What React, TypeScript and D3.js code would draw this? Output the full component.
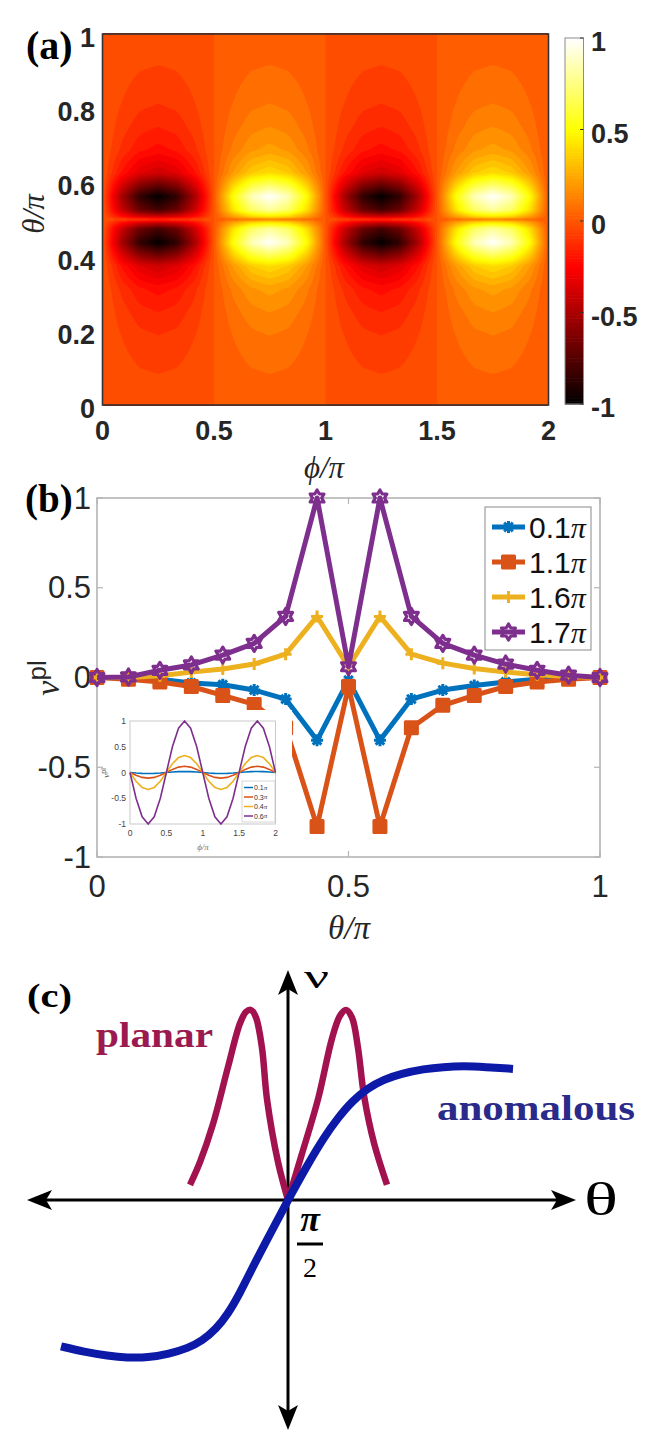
import React, { useMemo } from 'react';
import * as d3 from 'd3';

// ---------- panel (a): colour map of nu^pl over phi/pi and theta/pi ----------
// theta profile of the map, read along the darkest column (phi = 0.25 pi)
const mapTheta = [0, 0.0625, 0.125, 0.1875, 0.25, 0.3125, 0.375, 0.4375, 0.475, 0.495, 0.5, 0.505, 0.525, 0.5625, 0.625, 0.6875, 0.75, 0.8125, 0.875, 0.9375, 1];
const mapThetaProfile = [0.03, 0.04, 0.07, 0.1, 0.15, 0.22, 0.4, 1, 0.8, 0.35, 0.03, 0.35, 0.8, 1, 0.4, 0.22, 0.15, 0.1, 0.07, 0.04, 0.03];
const mapTicksX = [0, 0.5, 1, 1.5, 2];
const mapTicksY = [0, 0.2, 0.4, 0.6, 0.8, 1];
const barTicks = [-1, -0.5, 0, 0.5, 1];

// ---------- panel (b): nu^pl against theta/pi ----------
const thetaB = [0, 0.0625, 0.125, 0.1875, 0.25, 0.3125, 0.375, 0.4375, 0.5, 0.5625, 0.625, 0.6875, 0.75, 0.8125, 0.875, 0.9375, 1];
const seriesNames = ['0.1', '1.1', '1.6', '1.7'];
const nu01 = [0, 0, -0.01, -0.03, -0.04, -0.07, -0.12, -0.35, -0.015, -0.35, -0.12, -0.07, -0.045, -0.025, -0.01, 0, 0];
const nu11 = [0, -0.01, -0.025, -0.05, -0.1, -0.15, -0.28, -0.83, -0.05, -0.83, -0.28, -0.155, -0.1, -0.05, -0.025, -0.01, 0];
const nu16 = [0, 0, 0.01, 0.03, 0.047, 0.075, 0.13, 0.34, 0.06, 0.34, 0.13, 0.08, 0.05, 0.03, 0.015, 0.005, 0];
const nu17 = [0, 0.003, 0.04, 0.07, 0.125, 0.19, 0.34, 1, 0.06, 1, 0.34, 0.19, 0.125, 0.075, 0.04, 0.013, 0];
const ticksBX = [0, 0.5, 1];
const ticksBY = [-1, -0.5, 0, 0.5, 1];

// inset of (b): nu^pl against phi/pi (the phi profile is also used for the map)
const phiInset = [0, 0.083, 0.167, 0.25, 0.333, 0.417, 0.5, 0.583, 0.667, 0.75, 0.833, 0.917, 1, 1.083, 1.167, 1.25, 1.333, 1.417, 1.5, 1.583, 1.667, 1.75, 1.833, 1.917, 2];
const insetNames = ['0.1', '0.3', '0.4', '0.6'];
const in01 = [0, -0.01, -0.017, -0.02, -0.017, -0.01, 0, 0.01, 0.017, 0.02, 0.017, 0.01, 0, -0.01, -0.017, -0.02, -0.017, -0.01, 0, 0.01, 0.017, 0.02, 0.017, 0.01, 0];
const in03 = [0, -0.055, -0.095, -0.11, -0.095, -0.055, 0, 0.06, 0.105, 0.12, 0.105, 0.06, 0, -0.055, -0.095, -0.11, -0.095, -0.055, 0, 0.06, 0.105, 0.12, 0.105, 0.06, 0];
const in04 = [0, -0.17, -0.29, -0.33, -0.29, -0.17, 0, 0.17, 0.29, 0.33, 0.29, 0.17, 0, -0.17, -0.29, -0.33, -0.29, -0.17, 0, 0.17, 0.29, 0.33, 0.29, 0.17, 0];
const in06 = [0, -0.5, -0.86, -1, -0.86, -0.5, 0, 0.5, 0.86, 1, 0.86, 0.5, 0, -0.5, -0.86, -1, -0.86, -0.5, 0, 0.5, 0.86, 1, 0.86, 0.5, 0];
const insetTicksX = [0, 0.5, 1, 1.5, 2];
const insetTicksY = [-1, -0.5, 0, 0.5, 1];

// ---------- panel (c): schematic ----------
const planarTheta = [0.255, 0.28, 0.3125, 0.35, 0.38, 0.395, 0.4075, 0.42, 0.435, 0.4475, 0.475, 0.5, 0.533, 0.575, 0.61, 0.63, 0.645, 0.66, 0.675, 0.69, 0.715, 0.7475];
const planarNu = [0.08, 0.2, 0.4, 0.7, 0.93, 0.99, 1, 0.96, 0.8, 0.53, 0.2, 0, 0.23, 0.53, 0.85, 0.97, 1, 0.96, 0.8, 0.55, 0.3, 0.08];
const anomTheta = [-0.0675, -0.01, 0.05, 0.0975, 0.15, 0.2025, 0.25, 0.286, 0.32, 0.35, 0.38, 0.4125, 0.455, 0.5, 0.55, 0.59, 0.624, 0.66, 0.7, 0.74, 0.7825, 0.84, 0.8875, 0.94, 0.9925, 1.0625];
const anomNu = [-0.77, -0.8, -0.82, -0.83, -0.83, -0.81, -0.78, -0.74, -0.68, -0.6, -0.49, -0.35, -0.18, 0, 0.19, 0.33, 0.43, 0.52, 0.59, 0.635, 0.665, 0.69, 0.7, 0.705, 0.7, 0.69];

const COLORS = ['#0072BD', '#D95319', '#EDB120', '#7E2F8E'];
const MARKERS = ['star', 'square', 'plus', 'hexagram'];
const SANS = 'Liberation Sans, Arial, sans-serif';
const SERIF = 'Liberation Serif, DejaVu Serif, serif';

// MATLAB "hot" colormap over [-1, 1]
const hot = (v: number) => {
  const t = Math.max(0, Math.min(1, (v + 1) / 2));
  const c = (x: number) => Math.max(0, Math.min(1, x)) * 255;
  return d3.rgb(c(t / 0.375), c((t - 0.375) / 0.375), c((t - 0.75) / 0.25)).formatHex();
};

function markerPath(kind: string, r: number) {
  if (kind === 'star') {
    const a = r * 0.72;
    return `M${-r},0L${r},0M0,${-r}L0,${r}M${-a},${-a}L${a},${a}M${-a},${a}L${a},${-a}`;
  }
  if (kind === 'square') return `M${-r},${-r}h${2 * r}v${2 * r}h${-2 * r}Z`;
  if (kind === 'plus') return `M${-r},0L${r},0M0,${-r}L0,${r}`;
  // hexagram
  const pts = d3.range(12).map(k => {
    const ang = -Math.PI / 2 + (k * Math.PI) / 6;
    const rr = k % 2 === 0 ? r : r / Math.sqrt(3);
    return [rr * Math.cos(ang), rr * Math.sin(ang)];
  });
  return 'M' + pts.map(p => p.join(',')).join('L') + 'Z';
}

const Marker = ({ kind, x, y, color, r }: { kind: string; x: number; y: number; color: string; r: number }) => (
  <path
    d={markerPath(kind, r)}
    transform={`translate(${x},${y})`}
    fill={kind === 'square' ? color : 'none'}
    stroke={color}
    strokeWidth={kind === 'hexagram' ? 3.2 : 3}
    strokeLinejoin="round"
  />
);

// notched arrow head pointing along angle (deg), tip at (x, y)
const ArrowHead = ({ x, y, angle }: { x: number; y: number; angle: number }) => (
  <path d="M0,0L-25,-10L-19,0L-25,10Z" transform={`translate(${x},${y}) rotate(${angle})`} fill="#000" />
);

export default function App() {
  // 1. panel (a) scales
  const A = { x0: 102.5, x1: 548.5, y0: 34, y1: 405 };
  const xA = d3.scaleLinear().domain([0, 2]).range([A.x0, A.x1]);
  const yA = d3.scaleLinear().domain([0, 1]).range([A.y1, A.y0]);
  const yBar = d3.scaleLinear().domain([-1, 1]).range([404, 38]);

  const contours = useMemo(() => {
    const NX = 240, NY = 240;
    const phiAt = d3.scaleLinear().domain(phiInset).range(in06);
    const thetaAt = d3.scaleLinear().domain(mapTheta).range(mapThetaProfile);
    const values: number[] = new Array(NX * NY);
    for (let j = 0; j < NY; j++) {
      const th = 1 - (j + 0.5) / NY;
      for (let i = 0; i < NX; i++) {
        const ph = (2 * (i + 0.5)) / NX;
        values[j * NX + i] = phiAt(ph) * thetaAt(th);
      }
    }
    const levels = d3.range(-1.05, 1, 0.05);
    const cs = d3.contours().size([NX, NY]).thresholds(levels)(values);
    const sx = (A.x1 - A.x0) / NX, sy = (A.y1 - A.y0) / NY;
    const proj = d3.geoTransform({
      point(x: number, y: number) { (this as any).stream.point(A.x0 + x * sx, A.y0 + y * sy); },
    });
    const path = d3.geoPath(proj);
    return cs.map(c => ({ d: path(c as any) || '', fill: hot(c.value + 0.025) }));
  }, []);

  const barSteps = d3.range(0, 128);

  // 2. panel (b) scales
  const xB = d3.scaleLinear().domain([0, 1]).range([97, 600]);
  const yB = d3.scaleLinear().domain([-1, 1]).range([857, 498]);
  const seriesB = [nu01, nu11, nu16, nu17];
  const lineB = d3.line<number>().x((_, i) => xB(thetaB[i])).y(d => yB(d));

  const xI = d3.scaleLinear().domain([0, 2]).range([130, 275.5]);
  const yI = d3.scaleLinear().domain([-1, 1]).range([824, 721]);
  const seriesI = [in01, in03, in04, in06];
  const lineI = d3.line<number>().x((_, i) => xI(phiInset[i])).y(d => yI(d));

  // 3. panel (c) scales
  const xC = d3.scaleLinear().domain([0, 1]).range([88, 488]);
  const yC = d3.scaleLinear().domain([-1, 1]).range([1390, 1010]);
  const cusp = planarNu.indexOf(0);
  const planarL = d3.line<number>().x(i => xC(planarTheta[i])).y(i => yC(planarNu[i])).curve(d3.curveCatmullRom.alpha(0.5));
  const leftIdx = d3.range(0, cusp + 1);
  const rightIdx = d3.range(cusp, planarTheta.length);
  const anomLine = d3.line<number>().x(i => xC(anomTheta[i])).y(i => yC(anomNu[i])).curve(d3.curveBasis);
  const anomIdx = [0, ...d3.range(anomTheta.length), anomTheta.length - 1];

  const axisGray = '#b4b4b4';

  return (
    <svg width={660} height={1445} style={{ position: 'absolute', left: 0, top: 0, background: '#fff' }}>
      {/* ===== (a) ===== */}
      <g>
        <rect x={A.x0} y={A.y0} width={A.x1 - A.x0} height={A.y1 - A.y0} fill={hot(-1)} />
        {contours.map((c, i) => <path key={i} d={c.d} fill={c.fill} stroke={c.fill} strokeWidth={0.3} />)}
        <rect x={A.x0} y={A.y0} width={A.x1 - A.x0} height={A.y1 - A.y0} fill="none" stroke="#333" strokeWidth={1.6} />
        {mapTicksX.map(t => (
          <text key={t} x={xA(t)} y={431} textAnchor="middle" dominantBaseline="central"
            fontFamily={SANS} fontWeight="bold" fontSize={27} fill="#262626">{t}</text>
        ))}
        {mapTicksY.map(t => (
          <text key={t} x={95} y={yA(t) + 4} textAnchor="end" dominantBaseline="central"
            fontFamily={SANS} fontWeight="bold" fontSize={27} fill="#262626">{t}</text>
        ))}
        <text x={324} y={478} textAnchor="middle" fontFamily={SERIF} fontStyle="italic" fontSize={31} fill="#262626">ϕ/π</text>
        <text transform="translate(44,214) rotate(-90)" textAnchor="middle" fontFamily={SERIF} fontStyle="italic" fontSize={31} fill="#262626">θ/π</text>
        {/* colour bar */}
        {barSteps.map(k => {
          const v0 = -1 + (2 * k) / 128, v1 = -1 + (2 * (k + 1)) / 128;
          return <rect key={k} x={565} y={yBar(v1)} width={18.5} height={yBar(v0) - yBar(v1) + 0.6} fill={hot((v0 + v1) / 2)} />;
        })}
        <rect x={565} y={38} width={18.5} height={366} fill="none" stroke="#8c8c8c" strokeWidth={1} />
        {barTicks.map(t => (
          <g key={t}>
            <line x1={580} x2={583.5} y1={yBar(t)} y2={yBar(t)} stroke="#333" strokeWidth={1} />
            <text x={591} y={yBar(t) + 4} dominantBaseline="central" fontFamily={SANS} fontWeight="bold" fontSize={27} fill="#262626">{t}</text>
          </g>
        ))}
        <text x={26} y={59} fontFamily={SERIF} fontWeight="bold" fontSize={40} fill="#000">(a)</text>
      </g>

      {/* ===== (b) ===== */}
      <g>
        <rect x={97} y={498} width={503} height={359} fill="#fff" stroke={axisGray} strokeWidth={1.6} />
        {ticksBX.map(t => (
          <g key={t}>
            <line x1={xB(t)} x2={xB(t)} y1={857} y2={851} stroke={axisGray} strokeWidth={1.2} />
            <line x1={xB(t)} x2={xB(t)} y1={498} y2={504} stroke={axisGray} strokeWidth={1.2} />
            <text x={xB(t)} y={886} textAnchor="middle" dominantBaseline="central" fontFamily={SANS} fontSize={31} fill="#262626">{t}</text>
          </g>
        ))}
        {ticksBY.map(t => (
          <g key={t}>
            <line x1={97} x2={103} y1={yB(t)} y2={yB(t)} stroke={axisGray} strokeWidth={1.2} />
            <line x1={600} x2={594} y1={yB(t)} y2={yB(t)} stroke={axisGray} strokeWidth={1.2} />
            <text x={91} y={yB(t)} textAnchor="end" dominantBaseline="central" fontFamily={SANS} fontSize={31} fill="#262626">{t}</text>
          </g>
        ))}
        <text x={349} y={939} textAnchor="middle" fontFamily={SERIF} fontStyle="italic" fontSize={33} fill="#262626">θ/π</text>
        <text transform="translate(59,678) rotate(-90)" textAnchor="middle" fill="#262626">
          <tspan fontFamily={SERIF} fontStyle="italic" fontSize={34}>ν</tspan>
          <tspan fontFamily={SANS} fontSize={26} dy={-13}>pl</tspan>
        </text>

        {seriesB.map((s, k) => (
          <g key={k}>
            <path d={lineB(s) || ''} fill="none" stroke={COLORS[k]} strokeWidth={5} strokeLinejoin="round" />
            {s.map((v, i) => <Marker key={i} kind={MARKERS[k]} x={xB(thetaB[i])} y={yB(v)} color={COLORS[k]} r={k === 3 ? 8 : 6} />)}
          </g>
        ))}

        {/* legend */}
        <rect x={485} y={507} width={106} height={143} fill="#fff" stroke="#8a8a8a" strokeWidth={1} />
        {seriesNames.map((n, k) => {
          const y = 527 + k * 35;
          return (
            <g key={n}>
              <line x1={492} x2={525} y1={y} y2={y} stroke={COLORS[k]} strokeWidth={5} />
              <Marker kind={MARKERS[k]} x={508.5} y={y} color={COLORS[k]} r={k === 3 ? 8 : 6} />
              <text x={529} y={y} dominantBaseline="central" fontFamily={SANS} fontSize={30} fill="#111">
                {n}<tspan fontFamily={SERIF} fontStyle="italic">π</tspan>
              </text>
            </g>
          );
        })}

        {/* inset */}
        <rect x={103} y={710} width={189} height={143} fill="#fff" />
        <rect x={130} y={721} width={145.5} height={103} fill="#fff" stroke="#c4c4c4" strokeWidth={0.9} />
        {insetTicksX.map(t => (
          <text key={t} x={xI(t)} y={833} textAnchor="middle" dominantBaseline="central" fontFamily={SANS} fontSize={8.5} fill="#444">{t}</text>
        ))}
        {insetTicksY.map(t => (
          <text key={t} x={126} y={yI(t)} textAnchor="end" dominantBaseline="central" fontFamily={SANS} fontSize={8.5} fill="#444">{t}</text>
        ))}
        <text x={203} y={850} textAnchor="middle" fontFamily={SERIF} fontStyle="italic" fontSize={9} fill="#777">ϕ/π</text>
        <text transform="translate(109,773) rotate(-90)" textAnchor="middle" fill="#444">
          <tspan fontFamily={SERIF} fontStyle="italic" fontSize={9}>ν</tspan>
          <tspan fontFamily={SANS} fontSize={7} dy={-3}>pl</tspan>
        </text>
        {seriesI.map((s, k) => (
          <path key={k} d={lineI(s) || ''} fill="none" stroke={COLORS[k]} strokeWidth={1.6} />
        ))}
        <rect x={242} y={781} width={33} height={41} fill="#fff" stroke="#bdbdbd" strokeWidth={0.6} />
        {insetNames.map((n, k) => {
          const y = 787.5 + k * 9.5;
          return (
            <g key={n}>
              <line x1={244} x2={253} y1={y} y2={y} stroke={COLORS[k]} strokeWidth={1.5} />
              <text x={254} y={y} dominantBaseline="central" fontFamily={SANS} fontSize={7} fill="#333">
                {n}<tspan fontFamily={SERIF} fontStyle="italic">π</tspan>
              </text>
            </g>
          );
        })}
        <text x={25} y={512} fontFamily={SERIF} fontWeight="bold" fontSize={39} fill="#000">(b)</text>
      </g>

      {/* ===== (c) ===== */}
      <g>
        <line x1={40} x2={563} y1={yC(0)} y2={yC(0)} stroke="#000" strokeWidth={3} />
        <line x1={xC(0.5)} x2={xC(0.5)} y1={983} y2={1417} stroke="#000" strokeWidth={3} />
        <ArrowHead x={27} y={yC(0)} angle={180} />
        <ArrowHead x={576} y={yC(0)} angle={0} />
        <ArrowHead x={xC(0.5)} y={970} angle={-90} />
        <ArrowHead x={xC(0.5)} y={1430} angle={90} />

        <path d={planarL(leftIdx) || ''} fill="none" stroke="#a2124f" strokeWidth={6.5} />
        <path d={planarL(rightIdx) || ''} fill="none" stroke="#a2124f" strokeWidth={6.5} />
        <path d={anomLine(anomIdx) || ''} fill="none" stroke="#0d1aa8" strokeWidth={8} />

        <text x={27} y={1007} fontFamily={SERIF} fontWeight="bold" fontSize={34} textLength={45} lengthAdjust="spacingAndGlyphs">(c)</text>
        <text x={96} y={1047} fontFamily={SERIF} fontWeight="bold" fontSize={35} fill="#9b1b50" textLength={117} lengthAdjust="spacingAndGlyphs">planar</text>
        <text x={437} y={1120} fontFamily={SERIF} fontWeight="bold" fontSize={35} fill="#2a2a8a" textLength={198} lengthAdjust="spacingAndGlyphs">anomalous</text>
        <text x={584} y={1215} fontFamily={SERIF} fontSize={46} textLength={34} lengthAdjust="spacingAndGlyphs">θ</text>
        <text x={304} y={988} fontFamily={SERIF} fontSize={34} textLength={25} lengthAdjust="spacingAndGlyphs">ν</text>
        <text x={310} y={1231} textAnchor="middle" fontFamily={SERIF} fontWeight="bold" fontStyle="italic" fontSize={36}>π</text>
        <line x1={297} x2={323} y1={1244} y2={1244} stroke="#000" strokeWidth={3} />
        <text x={310} y={1277} textAnchor="middle" fontFamily={SERIF} fontSize={28}>2</text>
      </g>
    </svg>
  );
}
